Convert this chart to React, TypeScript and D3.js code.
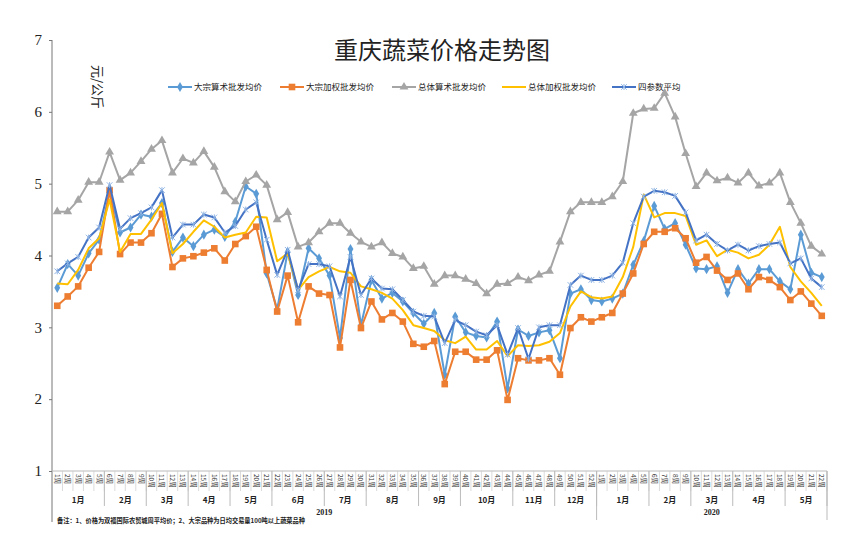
import React, { useEffect, useRef } from 'react';
import * as d3 from 'd3';

// 2019: 52 weeks, 2020: 22 weeks
const weeks2019 = d3.range(1, 53).map((w) => `${w}周`);
const weeks2020 = d3.range(1, 23).map((w) => `${w}周`);
const categories = [...weeks2019.map((w) => `2019-${w}`), ...weeks2020.map((w) => `2020-${w}`)];
const weekLabels = [...weeks2019, ...weeks2020];

const months2019: [string, number][] = [
  ['1月', 5], ['2月', 4], ['3月', 4], ['4月', 4], ['5月', 4], ['6月', 5],
  ['7月', 4], ['8月', 5], ['9月', 4], ['10月', 5], ['11月', 4], ['12月', 4],
];
const months2020: [string, number][] = [['1月', 5], ['2月', 4], ['3月', 4], ['4月', 5], ['5月', 4]];
const years: [string, number][] = [['2019', 52], ['2020', 22]];

const yTicks = [1, 2, 3, 4, 5, 6, 7];

const bulkArith = [3.55, 3.88, 3.72, 4.03, 4.22, 4.88, 4.32, 4.39, 4.57, 4.54,
  4.73, 4.05, 4.25, 4.13, 4.29, 4.36, 4.26, 4.47, 4.96, 4.86,
  3.75, 3.25, 4.05, 3.45, 4.10, 3.96, 3.72, 2.85, 4.09, 3.03,
  3.66, 3.40, 3.48, 3.36, 3.20, 3.05, 3.20, 2.34, 3.15, 2.93,
  2.88, 2.86, 3.08, 2.15, 2.97, 2.88, 2.93, 2.96, 2.57, 3.47,
  3.53, 3.38, 3.36, 3.40, 3.47, 3.87, 4.20, 4.69, 4.37, 4.45,
  4.15, 3.82, 3.81, 3.85, 3.48, 3.81, 3.61, 3.81, 3.81, 3.64,
  3.53, 4.29, 3.76, 3.70];

const bulkWeighted = [3.30, 3.43, 3.57, 3.83, 4.05, 4.91, 4.02, 4.18, 4.18, 4.31,
  4.58, 3.84, 3.96, 3.99, 4.04, 4.10, 3.93, 4.16, 4.27, 4.40,
  3.80, 3.22, 3.72, 3.07, 3.57, 3.47, 3.45, 2.72, 3.66, 2.99,
  3.36, 3.11, 3.20, 3.08, 2.77, 2.73, 2.81, 2.21, 2.66, 2.66,
  2.55, 2.55, 2.68, 1.99, 2.57, 2.54, 2.54, 2.57, 2.34, 2.99,
  3.14, 3.08, 3.14, 3.20, 3.47, 3.75, 4.16, 4.33, 4.33, 4.38,
  4.24, 3.90, 3.98, 3.79, 3.66, 3.75, 3.53, 3.70, 3.66, 3.56,
  3.38, 3.50, 3.33, 3.16];

const allArith = [4.61, 4.61, 4.77, 5.02, 5.02, 5.44, 5.05, 5.15, 5.31, 5.48,
  5.60, 5.15, 5.35, 5.29, 5.45, 5.23, 4.89, 4.75, 5.03, 5.12,
  4.98, 4.50, 4.60, 4.12, 4.18, 4.33, 4.45, 4.45, 4.31, 4.19,
  4.12, 4.18, 4.03, 3.98, 3.82, 3.85, 3.60, 3.72, 3.72, 3.67,
  3.61, 3.47, 3.60, 3.61, 3.70, 3.65, 3.73, 3.78, 4.19, 4.61,
  4.74, 4.74, 4.74, 4.82, 5.03, 5.98, 6.04, 6.05, 6.26, 5.93,
  5.42, 4.96, 5.15, 5.04, 5.08, 5.01, 5.15, 4.97, 5.01, 5.15,
  4.74, 4.45, 4.13, 4.02];

const allWeighted = [3.61, 3.60, 3.80, 4.10, 4.24, 4.78, 4.05, 4.30, 4.30, 4.50,
  4.73, 4.03, 4.16, 4.33, 4.49, 4.40, 4.25, 4.29, 4.32, 4.54,
  4.53, 3.92, 4.03, 3.52, 3.70, 3.78, 3.84, 3.78, 3.76, 3.57,
  3.53, 3.48, 3.40, 3.24, 3.03, 2.99, 2.95, 2.82, 2.78, 2.87,
  2.69, 2.69, 2.81, 2.60, 2.75, 2.74, 2.75, 2.80, 2.92, 3.29,
  3.50, 3.42, 3.40, 3.43, 3.70, 4.12, 4.85, 4.53, 4.59, 4.59,
  4.55, 4.15, 4.21, 3.99, 4.08, 4.04, 3.96, 4.01, 4.15, 4.40,
  3.84, 3.64, 3.48, 3.30];

const fourAvg = [3.78, 3.89, 3.98, 4.25, 4.39, 4.98, 4.37, 4.52, 4.59, 4.67,
  4.91, 4.25, 4.43, 4.43, 4.57, 4.53, 4.32, 4.41, 4.64, 4.74,
  4.22, 3.73, 4.08, 3.52, 3.88, 3.88, 3.85, 3.43, 3.98, 3.45,
  3.68, 3.54, 3.53, 3.38, 3.22, 3.16, 3.15, 2.78, 3.10, 3.03,
  2.94, 2.89, 3.03, 2.62, 2.99, 2.56, 3.00, 3.03, 3.03, 3.59,
  3.72, 3.66, 3.66, 3.72, 3.90, 4.45, 4.82, 4.90, 4.88, 4.83,
  4.60, 4.21, 4.29, 4.16, 4.07, 4.15, 4.07, 4.13, 4.16, 4.18,
  3.89, 3.96, 3.68, 3.56];

type Marker = 'diamond' | 'square' | 'triangle' | 'none' | 'asterisk';

const series: { name: string; values: number[]; color: string; marker: Marker; markerColor: string }[] = [
  { name: '大宗算术批发均价', values: bulkArith, color: '#5B9BD5', marker: 'diamond', markerColor: '#5B9BD5' },
  { name: '大宗加权批发均价', values: bulkWeighted, color: '#ED7D31', marker: 'square', markerColor: '#ED7D31' },
  { name: '总体算术批发均价', values: allArith, color: '#A5A5A5', marker: 'triangle', markerColor: '#A5A5A5' },
  { name: '总体加权批发均价', values: allWeighted, color: '#FFC000', marker: 'none', markerColor: '#FFC000' },
  { name: '四参数平均', values: fourAvg, color: '#4472C4', marker: 'asterisk', markerColor: '#8FB4E3' },
];

const W = 860;
const H = 540;
const CJK = '"Noto Sans CJK SC", sans-serif';

function drawMarker(g: any, type: Marker, x: number, y: number, color: string) {
  if (type === 'diamond') {
    g.append('path').attr('d', d3.symbol(d3.symbolDiamond, 30)()).attr('transform', `translate(${x},${y})`).attr('fill', color);
  } else if (type === 'square') {
    g.append('rect').attr('x', x - 3.3).attr('y', y - 3.3).attr('width', 6.6).attr('height', 6.6).attr('fill', color);
  } else if (type === 'triangle') {
    g.append('path').attr('d', d3.symbol(d3.symbolTriangle, 34)()).attr('transform', `translate(${x},${y})`).attr('fill', color);
  } else if (type === 'asterisk') {
    g.append('path').attr('d', d3.symbol(d3.symbolTimes, 22)()).attr('transform', `translate(${x},${y})`)
      .attr('fill', 'none').attr('stroke', color).attr('stroke-width', 1);
    g.append('line').attr('x1', x).attr('x2', x).attr('y1', y - 3).attr('y2', y + 3).attr('stroke', color).attr('stroke-width', 1);
  }
}

const App: React.FC = () => {
  const ref = useRef<SVGSVGElement>(null);

  useEffect(() => {
    if (!ref.current) return;
    const svg = d3.select(ref.current);
    svg.selectAll('*').remove();

    const left = 52;
    const right = 827;
    const top = 40;
    const bottom = 471;

    const x = d3.scaleBand<string>().domain(categories).range([left, right]);
    const xc = (i: number) => (x(categories[i]) as number) + x.bandwidth() / 2;
    const y = d3.scaleLinear().domain([1, 7]).range([bottom, top]);

    svg.append('rect').attr('width', W).attr('height', H).attr('fill', '#fff');

    // title
    svg.append('text').attr('x', 442).attr('y', 59).attr('text-anchor', 'middle')
      .attr('font-family', CJK).attr('font-size', 24).attr('fill', '#222').text('重庆蔬菜价格走势图');

    // y axis
    const yAxis = d3.axisLeft(y).tickValues(yTicks).tickSize(3).tickFormat((d: any) => `${d}`);
    const yg = svg.append('g').attr('transform', `translate(${left},0)`).call(yAxis);
    yg.select('.domain').remove();
    yg.selectAll('line').attr('stroke', '#777');
    yg.selectAll('text').attr('font-family', '"Liberation Serif", serif').attr('font-size', 15).attr('fill', '#222').attr('dx', -4);
    svg.append('line').attr('x1', left).attr('x2', left).attr('y1', top).attr('y2', 522).attr('stroke', '#777');

    svg.append('text').attr('transform', `translate(93,87) rotate(90)`).attr('text-anchor', 'middle')
      .attr('font-family', CJK).attr('font-size', 13).attr('fill', '#222').text('元/公斤');

    // category axis
    svg.append('line').attr('x1', left).attr('x2', right).attr('y1', bottom).attr('y2', bottom).attr('stroke', '#bbb');
    const bw = x.bandwidth();
    categories.forEach((c, i) => {
      const x0 = x(c) as number;
      svg.append('line').attr('x1', x0 + bw).attr('x2', x0 + bw).attr('y1', bottom).attr('y2', 491).attr('stroke', '#ccc').attr('stroke-width', 0.7);
      svg.append('text').attr('transform', `translate(${x0 + bw / 2 - 2.5},${bottom + 3}) rotate(90)`)
        .attr('font-family', CJK).attr('font-size', 6.5).attr('fill', '#333').text(weekLabels[i]);
    });

    let pos = 0;
    [...months2019, ...months2020].forEach(([m, n]) => {
      const x0 = left + pos * bw;
      const x1 = left + (pos + n) * bw;
      svg.append('line').attr('x1', x1).attr('x2', x1).attr('y1', bottom).attr('y2', 506).attr('stroke', '#bbb');
      svg.append('text').attr('x', (x0 + x1) / 2).attr('y', 503).attr('text-anchor', 'middle')
        .attr('font-family', CJK).attr('font-size', 8).attr('font-weight', 'bold').attr('fill', '#222').text(m);
      pos += n;
    });

    pos = 0;
    years.forEach(([yr, n]) => {
      const x0 = left + pos * bw;
      const x1 = left + (pos + n) * bw;
      svg.append('line').attr('x1', x1).attr('x2', x1).attr('y1', bottom).attr('y2', 520).attr('stroke', '#bbb');
      svg.append('text').attr('x', (x0 + x1) / 2).attr('y', 515).attr('text-anchor', 'middle')
        .attr('font-family', '"Liberation Serif", serif').attr('font-size', 8).attr('font-weight', 'bold').attr('fill', '#222').text(yr);
      pos += n;
    });

    svg.append('text').attr('x', 57).attr('y', 523).attr('font-family', CJK).attr('font-size', 6.4)
      .attr('font-weight', 'bold').attr('fill', '#222').attr('textLength', 248).attr('lengthAdjust', 'spacingAndGlyphs')
      .text('备注：1、价格为双福国际农贸城周平均价；2、大宗品种为日均交易量100吨以上蔬菜品种');

    // lines
    const line = d3.line<number>().x((_, i) => xc(i)).y((d) => y(d));
    series.forEach((s) => {
      svg.append('path').datum(s.values).attr('fill', 'none').attr('stroke', s.color)
        .attr('stroke-width', 2).attr('stroke-linejoin', 'round').attr('d', line);
      const mg = svg.append('g');
      s.values.forEach((v, i) => drawMarker(mg, s.marker, xc(i), y(v), s.markerColor));
    });

    // legend
    const legendX = [168, 280, 392, 502, 612];
    series.forEach((s, i) => {
      const lg = svg.append('g').attr('transform', `translate(${legendX[i]},87)`);
      lg.append('line').attr('x1', 0).attr('x2', 24).attr('y1', 0).attr('y2', 0).attr('stroke', s.color).attr('stroke-width', 2);
      drawMarker(lg, s.marker, 12, 0, s.markerColor);
      lg.append('text').attr('x', 26).attr('y', 3).attr('font-family', CJK).attr('font-size', 8.5)
        .attr('fill', '#222').text(s.name);
    });
  }, []);

  return <svg ref={ref} width={W} height={H} style={{ position: 'absolute', left: 0, top: 0 }} />;
};

export default App;
